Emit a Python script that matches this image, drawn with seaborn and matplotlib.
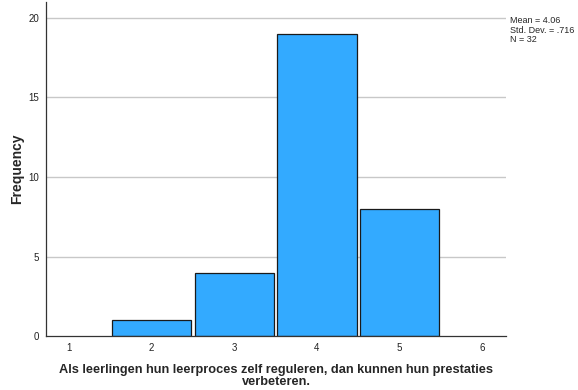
import numpy as np
import pandas as pd
import matplotlib
matplotlib.use('Agg')
import matplotlib.pyplot as plt
import seaborn as sns

# Data
scores = [1, 2, 3, 4, 5, 6]
counts = [0, 1, 4, 19, 8, 0]
stats_text = 'Mean = 4.06\nStd. Dev. = .716\nN = 32'
xlabel = 'Als leerlingen hun leerproces zelf reguleren, dan kunnen hun prestaties\nverbeteren.'

sns.set_style('white')
plt.rcParams['font.family'] = ['Liberation Sans', 'DejaVu Sans']

df = pd.DataFrame({'score': scores, 'count': counts})

fig = plt.figure(figsize=(5.78, 3.9), dpi=100)
ax = fig.add_axes([0.0796, 0.138, 0.7958, 0.857])

for y in [5, 10, 15, 20]:
    ax.axhline(y, color='#c8c8c8', lw=1, zorder=0)

sns.histplot(data=df[df['count'] > 0], x='score', weights='count', discrete=True, shrink=0.96,
             color='#33aaff', edgecolor='#1a1a1a', linewidth=0.9, alpha=1, ax=ax, zorder=2)

ax.set_xlim(0.72, 6.29)
ax.set_ylim(0, 21)
ax.set_xticks(scores)
ax.set_yticks([0, 5, 10, 15, 20])
ax.tick_params(axis='both', labelsize=7, length=0, pad=5, colors='#222222')
for s in ['top', 'right']:
    ax.spines[s].set_visible(False)
for s in ['left', 'bottom']:
    ax.spines[s].set_color('#333333')
    ax.spines[s].set_linewidth(0.9)

ax.set_ylabel('Frequency', fontsize=10, fontweight='bold', labelpad=3)
ax.set_xlabel(xlabel, fontsize=9.2, fontweight='bold', labelpad=8, linespacing=0.95)

fig.text(0.882, 0.958, stats_text, fontsize=6.5, va='top', ha='left', linespacing=1.05)

plt.savefig('out.png', dpi=100)
